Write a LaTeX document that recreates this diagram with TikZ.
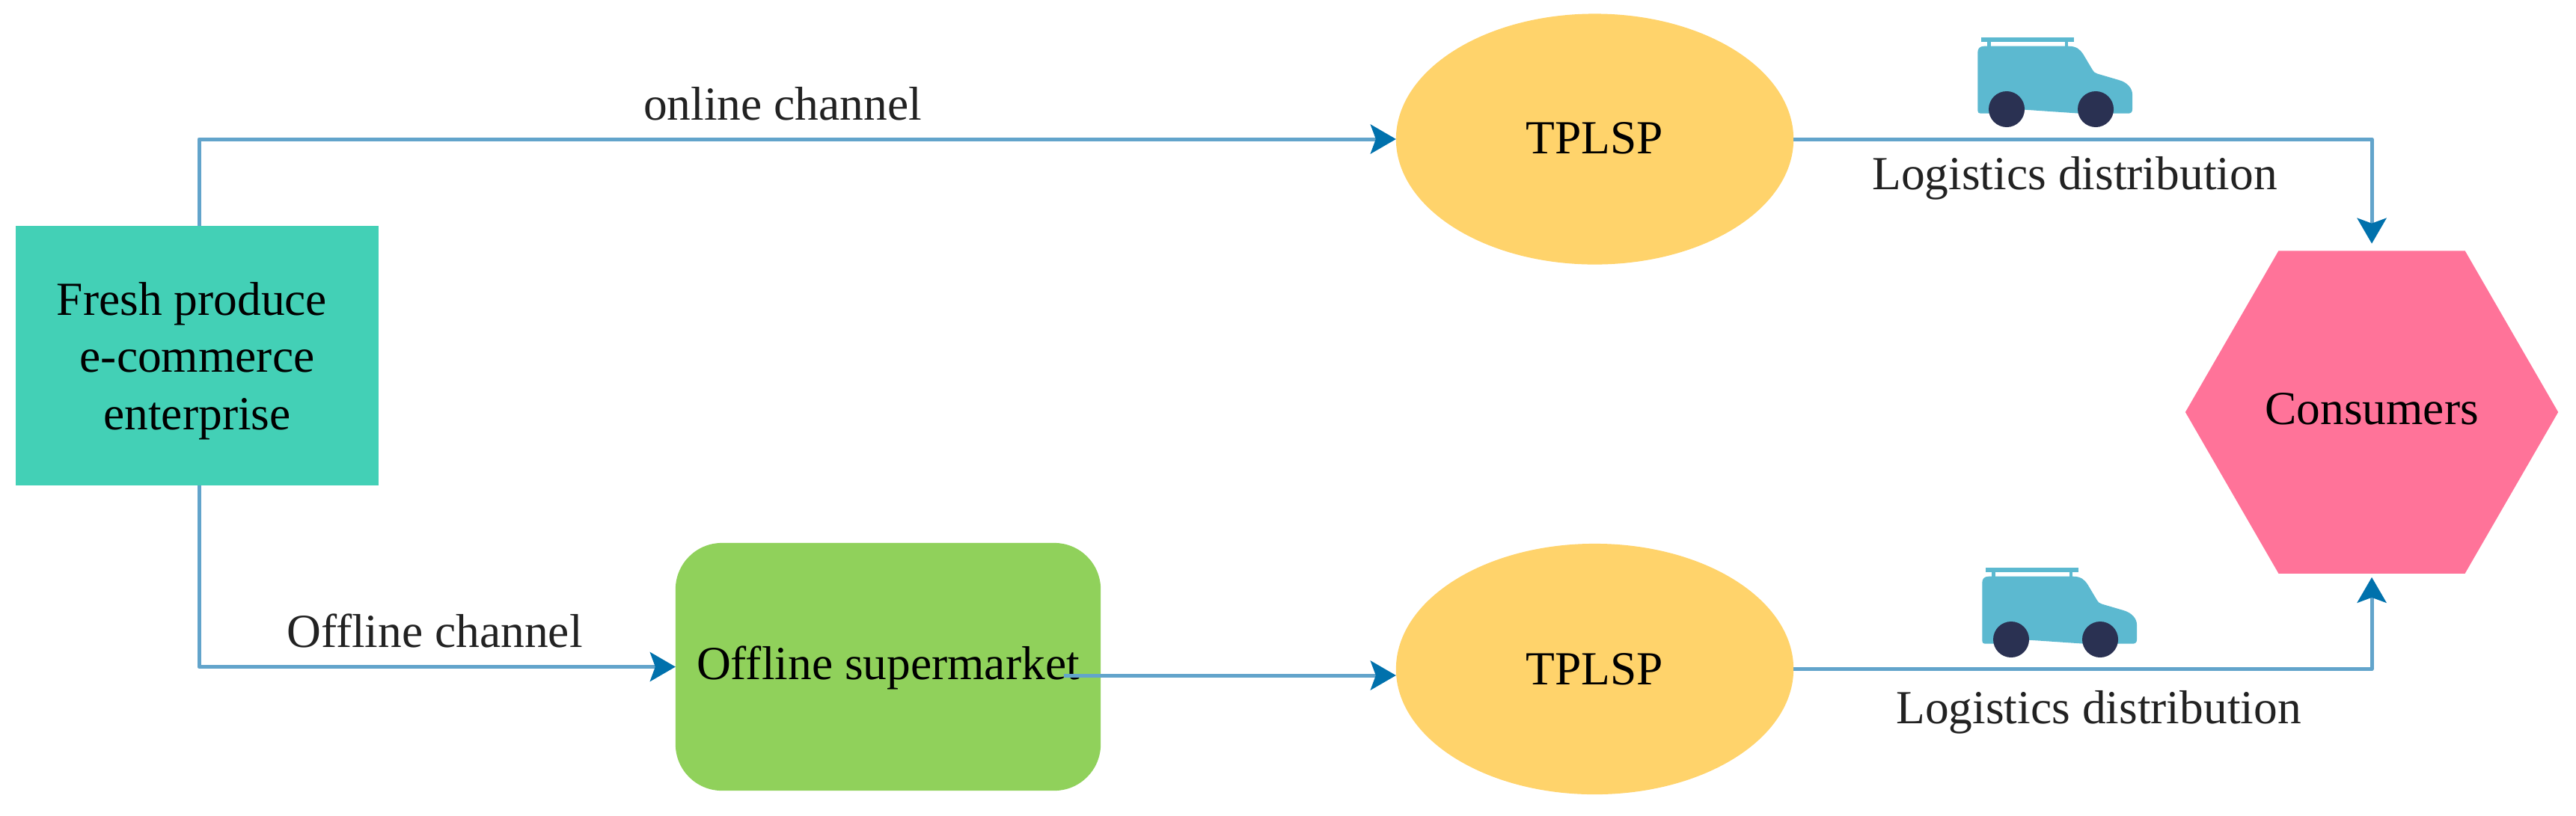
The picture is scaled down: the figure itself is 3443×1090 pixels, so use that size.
\documentclass[tikz,border=0pt]{standalone}
\usepackage{fontspec}
\setmainfont{Liberation Serif}
\usetikzlibrary{arrows.meta,shapes.geometric}
\definecolor{linkblue}{HTML}{62A4CB}
\definecolor{tipblue}{HTML}{0071AC}
\definecolor{tealbox}{HTML}{43D0B6}
\definecolor{greenbox}{HTML}{90D15B}
\definecolor{yellowell}{HTML}{FFD36B}
\definecolor{pinkhex}{HTML}{FF7399}
\definecolor{vanbody}{HTML}{5CB9D0}
\definecolor{vanwheel}{HTML}{2A3152}
\definecolor{labelink}{HTML}{222222}
\newcommand{\baseat}[2]{\raisebox{-#1cm}[0pt][0pt]{#2}}
\tikzset{
  x=0.01cm,y=-0.01cm,
  every node/.style={font=\fontsize{18.05}{21.9}\selectfont,inner sep=0pt,outer sep=0pt,text=black},
  tealnode/.style={rectangle,fill=tealbox,minimum width=4.85cm,minimum height=3.47cm},
  marketnode/.style={rectangle,rounded corners=0.62cm,fill=greenbox,minimum width=5.68cm,minimum height=3.31cm},
  tplnode/.style={ellipse,fill=yellowell,minimum width=5.31cm,minimum height=3.35cm},
  hexnode/.style={regular polygon,regular polygon sides=6,fill=pinkhex,minimum size=4.98cm},
  edgelabel/.style={anchor=base,text=labelink},
  link/.style={draw=linkblue,line width=0.05cm,line join=round,-{Stealth[length=0.34cm,width=0.39cm,inset=0.07cm,color=tipblue]}},
  van/.pic={
    \fill[vanbody] (2643.3,70) .. controls (2643.3,65) and (2646,61.7) .. (2652,61.7)
      -- (2765,61.7) .. controls (2775,61.7) and (2780,66) .. (2784,72)
      -- (2796.7,93.3) .. controls (2798,96) and (2800,97.5) .. (2803,98.5)
      -- (2832,107) .. controls (2843,110) and (2850,118) .. (2850,126)
      -- (2850,146) .. controls (2850,150) and (2848,151.7) .. (2844,151.7)
      -- (2780,151.7) -- (2706.7,146.7) -- (2660,151.7) -- (2647,151.7)
      .. controls (2644.5,151.7) and (2643.3,150) .. (2643.3,148) -- cycle;
    \fill[vanbody] (2648,49.5) rectangle (2772,55.5);
    \fill[vanbody] (2656.2,55) rectangle (2661.2,62);
    \fill[vanbody] (2759.5,55) rectangle (2763.8,62);
    \fill[vanwheel] (2682,146) circle[radius=0.24cm];
    \fill[vanwheel] (2801,146) circle[radius=0.24cm];
  }
}
\begin{document}
\begin{tikzpicture}
\path[use as bounding box,fill=white] (0,0) rectangle (3443,1090);

\node[tealnode] (fresh) at (263.5,475.5) {\baseat{0.22}{\begin{tabular}{@{}c@{}}\kern-0.14cm Fresh produce\\[-0.1pt] e-commerce\\[-0.1pt] enterprise\end{tabular}}};
\node[marketnode] (market) at (1187,891.5) {\baseat{0.165}{Offline supermarket}};
\node[tplnode] (tp1) at (2131.5,186) {\baseat{0.19}{TPLSP}};
\node[tplnode] (tp2) at (2131.5,894.5) {\baseat{0.205}{TPLSP}};
\node[hexnode] (cons) at (3170,551) {\baseat{0.16}{Consumers}};

\coordinate (freshup) at ([xshift=0.025cm]fresh.north);
\coordinate (freshdown) at ([xshift=0.025cm]fresh.south);
\coordinate (marketout) at (1422,903);

\draw[link] (freshup) |- (tp1.west);
\draw[link] (freshdown) |- (market.west);
\draw[link] (marketout) -- (marketout -| tp2.west);
\draw[link,shorten >=0.095cm] (tp1.east) -| (cons.north);
\draw[link,shorten >=0.05cm] (tp2.east) -| (cons.south);

\node[edgelabel] (online) at (1046,160) {online channel};
\node[edgelabel] (offline) at (581,865) {Offline channel};
\node[edgelabel] (logtop) at (2773,253) {Logistics distribution};
\node[edgelabel] (logbot) at (2805,967) {Logistics distribution};

\pic at (0,0) {van};
\pic at (6,709) {van};
\end{tikzpicture}
\end{document}
